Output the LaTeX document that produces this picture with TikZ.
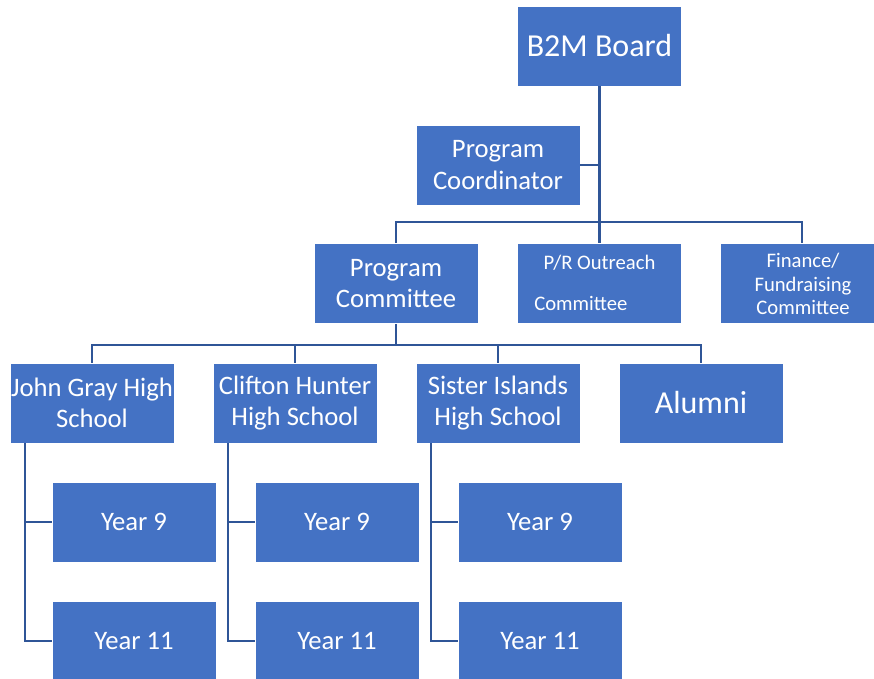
\documentclass[tikz,border=0pt]{standalone}
\usepackage{fontspec}
\setmainfont{Carlito}
\definecolor{boxfill}{HTML}{4472C4}
\definecolor{linec}{HTML}{2F5597}
\begin{document}
\begin{tikzpicture}[x=0.75pt,y=-0.75pt,
  box/.style={fill=boxfill,draw=white,line width=0.6pt,text=white,align=center,inner sep=0pt,
    minimum width=123pt,minimum height=60pt,font=\fontsize{20}{23.5}\selectfont},
  big/.style={font=\fontsize{24}{28}\selectfont},
  small/.style={font=\fontsize{15.5}{17.4}\selectfont},
  lbl/.style={text=white,inner sep=0pt},
  conn/.style={draw=linec,line width=1.9pt}]
\useasboundingbox (0,0) rectangle (874,678);
% boxes
\node[box,big] (b2m) at (599.5,46) {B2M Board};
\node[box] (pc) at (498,165) {Program\\Coordinator};
\node[box] (pcom) at (396,283.5) {Program\\Committee};
\node[box] (pr) at (599.5,283.5) {};
\node[lbl,small] (prt) at (599.5,263) {P/R Outreach};
\node[lbl,small,anchor=west] (prb) at (534,303) {Committee};
\node[box] (fin) at (802,283.5) {};
\node[lbl,small,align=center] (fint) at (803,284) {Finance/\\Fundraising\\Committee};
\node[box] (jg) at (92,403) {John Gray High\\School};
\node[box] (ch) at (295,403) {Clifton Hunter\\High School};
\node[box] (si) at (498,403) {Sister Islands\\High School};
\node[box,big] (al) at (701,403) {Alumni};
\node[box] (jg9) at (134,522) {Year 9};
\node[box] (jg11) at (134,641) {Year 11};
\node[box] (ch9) at (337,522) {Year 9};
\node[box] (ch11) at (337,641) {Year 11};
\node[box] (si9) at (540,522) {Year 9};
\node[box] (si11) at (540,641) {Year 11};
% connectors
\draw[conn] (b2m.south) -- (pr.north);
\draw[conn] (pc.east) -- (pc.east -| b2m.south);
\coordinate (bar1) at (599.5,222);
\draw[conn] (pcom.north) |- (bar1) -| (fin.north);
\coordinate (bar2) at (396,345);
\draw[conn] (pcom.south) -- (bar2);
\draw[conn] (jg.north) |- (bar2) -| (al.north);
\draw[conn] (ch.north) -- (ch.north |- bar2);
\draw[conn] (si.north) -- (si.north |- bar2);
\coordinate (jgs) at (25,443);
\coordinate (chs) at (228,443);
\coordinate (sis) at (431,443);
\draw[conn] (jgs) |- (jg11.west);
\draw[conn] (jgs |- jg9.west) -- (jg9.west);
\draw[conn] (chs) |- (ch11.west);
\draw[conn] (chs |- ch9.west) -- (ch9.west);
\draw[conn] (sis) |- (si11.west);
\draw[conn] (sis |- si9.west) -- (si9.west);
\end{tikzpicture}
\end{document}
